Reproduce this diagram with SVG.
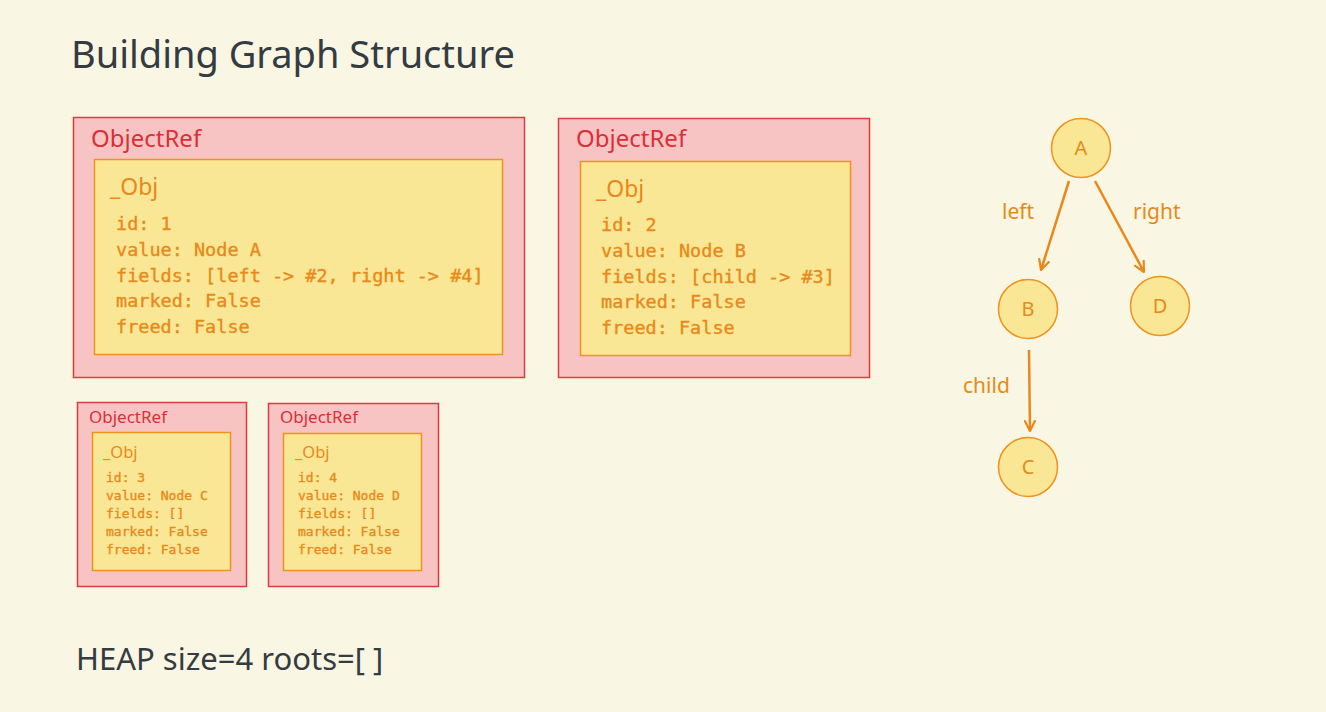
<svg xmlns="http://www.w3.org/2000/svg" width="1326" height="712" viewBox="0 0 1326 712">
<defs>
<style>
.ref{fill:#f8c4c3;stroke:#e0393e;stroke-width:1.5}
.obj{fill:#f9e795;stroke:#f0921e;stroke-width:1.5}
.reflbl{font-family:"Noto Sans","Open Sans",sans-serif;fill:#db2f39}
.objlbl{font-family:"Noto Sans","Open Sans",sans-serif;fill:#e8891a}
.mono{font-family:"DejaVu Sans Mono","Liberation Mono",monospace;fill:#e8891a;stroke:#e8891a;stroke-width:0.35}
.dark{font-family:"Noto Sans","Open Sans",sans-serif;fill:#343b41}
.node{fill:#f9e795;stroke:#f0921e;stroke-width:1.5}
.nlbl{font-family:"Noto Sans","Open Sans",sans-serif;fill:#e8891a;font-size:20px;text-anchor:middle}
.elbl{font-family:"Noto Sans","Open Sans",sans-serif;fill:#e8891a;font-size:21px}
.edge{stroke:#e8891a;stroke-width:2.5;fill:none}
</style>
<marker id="arr" viewBox="0 0 12 12" refX="11" refY="6" markerWidth="12" markerHeight="12" markerUnits="userSpaceOnUse" orient="auto">
<path d="M1,1 L11,6 L1,11" fill="none" stroke="#e8891a" stroke-width="2.2" stroke-linecap="round" stroke-linejoin="round"/>
</marker>
</defs>
<rect width="1326" height="712" fill="#f9f6e4"/>
<text class="dark" x="71" y="68" font-size="38">Building Graph Structure</text>
<g id="ref1">
<rect class="ref" x="73.5" y="117.5" width="451" height="260"/>
<text class="reflbl" x="91" y="147" font-size="24">ObjectRef</text>
<rect class="obj" x="94.5" y="159.5" width="408" height="195"/>
<text class="objlbl" x="110" y="195" font-size="23">_Obj</text>
<text class="mono" font-size="18.5"><tspan x="116" y="230">id: 1</tspan><tspan x="116" y="256">value: Node A</tspan><tspan x="116" y="281.5">fields: [left -&gt; #2, right -&gt; #4]</tspan><tspan x="116" y="307">marked: False</tspan><tspan x="116" y="333">freed: False</tspan></text>
</g>
<g id="ref2">
<rect class="ref" x="558.5" y="118.5" width="311" height="259"/>
<text class="reflbl" x="576" y="147" font-size="24">ObjectRef</text>
<rect class="obj" x="580.5" y="161.5" width="270" height="194"/>
<text class="objlbl" x="596" y="197" font-size="23">_Obj</text>
<text class="mono" font-size="18.5"><tspan x="601" y="231">id: 2</tspan><tspan x="601" y="257">value: Node B</tspan><tspan x="601" y="282.5">fields: [child -&gt; #3]</tspan><tspan x="601" y="308">marked: False</tspan><tspan x="601" y="334">freed: False</tspan></text>
</g>
<g id="ref3">
<rect class="ref" x="77.5" y="402.5" width="169" height="184"/>
<text class="reflbl" x="89" y="423" font-size="17">ObjectRef</text>
<rect class="obj" x="92.5" y="432.5" width="138" height="138"/>
<text class="objlbl" x="103" y="458" font-size="16.5">_Obj</text>
<text class="mono" font-size="13" stroke-width="0.25"><tspan x="106" y="482">id: 3</tspan><tspan x="106" y="500">value: Node C</tspan><tspan x="106" y="518">fields: []</tspan><tspan x="106" y="536">marked: False</tspan><tspan x="106" y="554">freed: False</tspan></text>
</g>
<g id="ref4">
<rect class="ref" x="268.5" y="403.5" width="170" height="183"/>
<text class="reflbl" x="280" y="423" font-size="17">ObjectRef</text>
<rect class="obj" x="283.5" y="433.5" width="138" height="137"/>
<text class="objlbl" x="295" y="458" font-size="16.5">_Obj</text>
<text class="mono" font-size="13" stroke-width="0.25"><tspan x="298" y="482">id: 4</tspan><tspan x="298" y="500">value: Node D</tspan><tspan x="298" y="518">fields: []</tspan><tspan x="298" y="536">marked: False</tspan><tspan x="298" y="554">freed: False</tspan></text>
</g>
<text class="dark" x="76" y="670" font-size="31">HEAP size=4 roots=[ ]</text>
<g id="connectors">
<line class="edge" x1="1069" y1="181" x2="1041" y2="270" marker-end="url(#arr)"/>
<line class="edge" x1="1095" y1="181" x2="1144" y2="272" marker-end="url(#arr)"/>
<line class="edge" x1="1029" y1="350" x2="1030" y2="431" marker-end="url(#arr)"/>
<text class="elbl" x="1002" y="219">left</text>
<text class="elbl" x="1133" y="219">right</text>
<text class="elbl" x="963" y="393">child</text>
</g>
<g id="nodeA"><circle class="node" cx="1081" cy="148" r="29.5"/><text class="nlbl" x="1081" y="155">A</text></g>
<g id="nodeB"><circle class="node" cx="1028" cy="309" r="29.5"/><text class="nlbl" x="1028" y="316">B</text></g>
<g id="nodeD"><circle class="node" cx="1160" cy="306" r="29.5"/><text class="nlbl" x="1160" y="313">D</text></g>
<g id="nodeC"><circle class="node" cx="1028" cy="467" r="29.5"/><text class="nlbl" x="1028" y="474">C</text></g>
</svg>
